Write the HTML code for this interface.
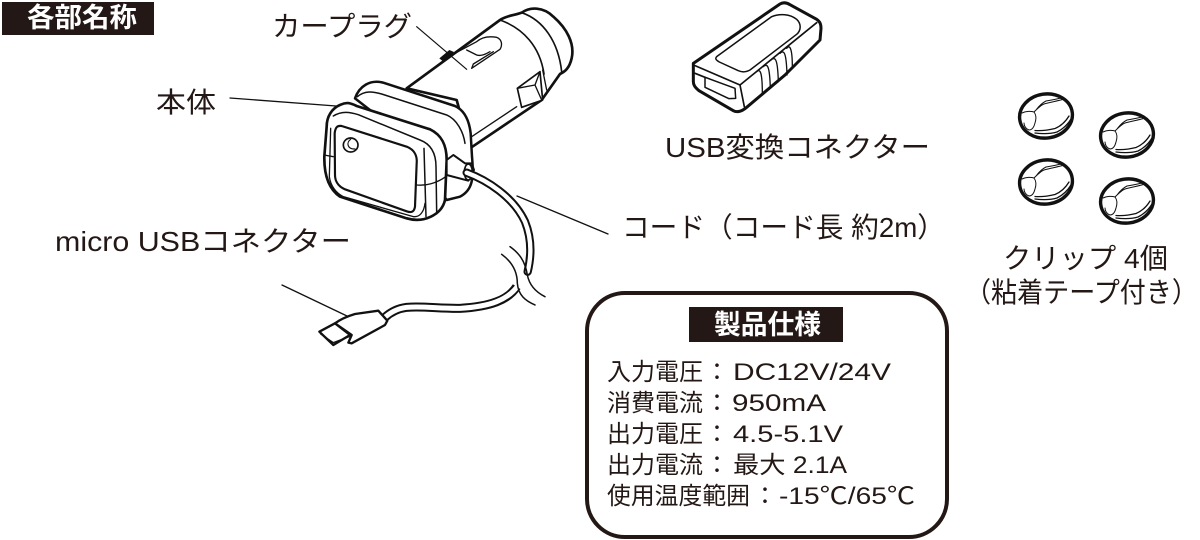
<!DOCTYPE html>
<html lang="ja"><head><meta charset="utf-8"><style>
html,body{margin:0;padding:0;background:#fff;width:1200px;height:540px;overflow:hidden}
svg{display:block}
text{font-family:"Liberation Sans","Noto Sans CJK JP",sans-serif;fill:#231815}
.l{font-size:28px}.s{font-size:24px}
.w{fill:#fff;font-weight:700}
.k{fill:none;stroke:#111;stroke-linecap:round;stroke-linejoin:round}
.f{fill:#fff;stroke:#111;stroke-linecap:round;stroke-linejoin:round}
</style></head><body>
<svg width="1200" height="540" viewBox="0 0 1200 540" xmlns="http://www.w3.org/2000/svg">
<defs>
<g id="clip">
<ellipse cx="0" cy="0" rx="26.5" ry="22" transform="rotate(-8)" fill="#fff" stroke="#111" stroke-width="3.4"/>
<path class="k" stroke-width="1" d="M-24 -3C-20 -5 -15 -5 -12 -4C-8 -8 -5 -11 -2 -12C5 -14 12 -15 18 -17M-10 -6C-7 -10 -4 -13 0 -15C6 -16 11 -17 15 -18M-12 -4C-9 0 -10 4 -11 7C-12 11 -14 14 -17 14C-20 13 -22 10 -22 7"/>
<path class="k" stroke-width="1.3" d="M-11 17C-3 18 4 18 11 16C17 13 22 8 25 3M-11 14.5C-3 15 3 14 9 12.5C15 10 20 5 23 0"/>
</g>
</defs>

<!-- header -->
<rect x="2" y="2" width="152" height="33" fill="#231815"/>
<text class="w" x="27" y="27" font-size="27" textLength="110" lengthAdjust="spacingAndGlyphs">各部名称</text>

<!-- labels -->
<text class="l" x="272" y="36" textLength="140" lengthAdjust="spacingAndGlyphs">カープラグ</text>
<text class="l" x="156" y="112" textLength="60" lengthAdjust="spacingAndGlyphs">本体</text>
<text class="l" x="55" y="251" textLength="296" lengthAdjust="spacingAndGlyphs">micro USBコネクター</text>
<text class="l" x="665" y="157" textLength="265" lengthAdjust="spacingAndGlyphs">USB変換コネクター</text>
<text class="l" x="622" y="237" textLength="323" lengthAdjust="spacingAndGlyphs">コード（コード長 約2m）</text>
<text class="l" x="1003" y="268" textLength="165" lengthAdjust="spacingAndGlyphs">クリップ 4個</text>
<text class="l" x="965" y="302" textLength="233" lengthAdjust="spacingAndGlyphs">（粘着テープ付き）</text>

<!-- leader lines -->
<path class="k" stroke-width="1.3" d="M230 98L336 106M282 285L347 316M517 196L608 234"/>

<!-- main unit, in 3x coords -->
<g transform="translate(300,0) scale(0.33333)">
  <!-- barrel + cap -->
  <path class="f" stroke-width="8" d="M320 265L600 60C620 46 645 46 665 38C690 20 730 20 760 50C800 85 825 130 815 175C808 205 795 215 780 222L725 300L510 445L470 300Z"/>
  <path class="k" stroke-width="5" d="M600 60C670 85 720 140 732 222M665 38C730 60 775 125 785 215"/>
  <path class="k" stroke-width="4" d="M515 410L650 320"/>
  <!-- slot -->
  <path class="k" stroke-width="4" d="M455 165L530 125C545 112 565 108 590 112C606 118 608 135 600 148L515 205L520 192L580 155M500 150L530 165C545 170 560 160 570 155"/>
  <path class="k" stroke-width="3.5" d="M350 80L500 208"/>
  <path d="M418 175L448 150L462 156L430 185Z" fill="#111"/>
  <!-- side tab -->
  <path class="f" stroke-width="5" d="M652 265L720 215L728 300L665 322Z"/>
  <path class="k" stroke-width="4" d="M652 265L705 255L720 215M705 255L725 300M728 210L740 270"/>
  <!-- back flange -->
  <path class="f" stroke-width="7.5" d="M165 295C178 258 210 238 250 248L465 318C495 332 508 365 512 400L516 470C522 535 518 570 480 590L440 600L300 400Z"/>
  <path class="k" stroke-width="4.5" d="M172 290C195 270 220 275 245 282L440 345C470 358 490 395 495 430"/>
  <!-- front flange -->
  <path class="f" stroke-width="8" d="M122 314C95 325 80 350 80 380L73 470C72 530 88 568 120 590L320 655C370 670 425 645 435 600L440 480C440 435 425 405 390 388L170 318C150 308 138 306 122 314Z"/>
  <path class="k" stroke-width="4.5" d="M100 348C125 332 150 336 175 344L360 420C392 432 408 460 408 500L410 635M372 445L378 650"/>
  <path class="k" stroke-width="4" d="M72 465L100 470M350 555C375 558 410 550 437 530"/>
  <!-- panel outer line -->
  <path class="k" stroke-width="4" d="M92 385L88 530C92 560 110 580 130 590L340 650C360 652 372 635 375 610"/>
  <!-- panel -->
  <path class="f" stroke-width="6.5" d="M125 378L320 440C345 450 352 470 350 490L345 620C342 638 332 638 320 634L135 568C112 558 105 540 105 525L104 400C106 382 112 376 125 378Z"/>
  <ellipse cx="152" cy="435" rx="22" ry="21" fill="#fff" stroke="#111" stroke-width="5"/>
  <path class="k" stroke-width="3.5" d="M152 418C138 428 142 448 165 447"/>
  <!-- strain relief -->
  <path class="f" stroke-width="6" d="M440 480L460 465L495 490L515 490L522 510L505 542L440 525Z"/>
  <ellipse cx="505" cy="516" rx="12" ry="24" fill="#fff" stroke="#111" stroke-width="5"/>
</g>

<!-- cord -->
<g transform="translate(300,160) scale(0.33333)" fill="none" stroke-linecap="round">
  <path d="M500 38C560 60 640 110 675 185C695 235 695 285 683 335" stroke="#111" stroke-width="25"/>
  <path d="M500 38C560 60 640 110 675 185C695 235 695 285 683 335" stroke="#fff" stroke-width="13"/>
  <path d="M650 380C625 420 570 440 480 445C420 446 370 438 320 442C290 446 270 458 255 472" stroke="#111" stroke-width="27" stroke-linecap="butt"/>
  <path d="M656 374C625 420 570 440 480 445C420 446 370 438 320 442C290 446 270 458 250 476" stroke="#fff" stroke-width="15" stroke-linecap="butt"/>
  <path class="k" stroke-width="4.5" d="M630 260C655 278 675 300 682 345C688 375 705 395 735 410M605 283C635 305 652 335 652 370C655 405 675 422 705 435"/>
  <!-- micro USB plug -->
  <path class="f" stroke-width="7" d="M58 515L105 490L150 525L100 555Z"/>
  <path class="k" stroke-width="4" d="M62 522L100 548L148 530"/>
  <path class="f" stroke-width="7" d="M105 490C125 475 145 468 165 462L235 452L262 482L255 495L155 550L145 548L155 525Z"/>
</g>

<!-- USB adapter -->
<g transform="translate(685,0) scale(0.33333)">
  <path class="f" stroke-width="9" d="M25 190L285 12C295 6 305 8 315 14L395 58C405 65 408 72 408 85L405 120L300 225L185 322C170 335 155 338 145 332L42 272C30 262 25 255 25 245Z"/>
  <path class="k" stroke-width="5" d="M30 197L165 255L395 68M165 255L178 320M30 220L150 268"/>
  <path class="k" stroke-width="4.5" d="M95 170L260 50C285 40 315 42 335 58C350 72 348 92 335 103L195 210C180 218 170 216 160 212L103 186C92 180 90 175 95 170Z"/>
  <path class="f" stroke-width="4.5" d="M60 232L150 265L152 295L132 296L60 262Z"/>
  <path class="k" stroke-width="4" d="M215 215C225 205 232 215 232 280M235 200C248 188 254 200 256 265M258 180C272 168 278 180 280 245M285 160C298 148 304 160 306 225M305 145C314 132 322 145 322 200"/>
</g>

<!-- clips -->
<use href="#clip" x="1046" y="116"/>
<use href="#clip" x="1127" y="135"/>
<use href="#clip" x="1046" y="182"/>
<use href="#clip" x="1127" y="201"/>

<!-- spec box -->
<rect x="587" y="293" width="360" height="244" rx="38" ry="38" fill="#fff" stroke="#231815" stroke-width="4"/>
<rect x="689" y="307" width="154" height="35" fill="#231815"/>
<text class="w" x="714" y="334" font-size="27" textLength="107" lengthAdjust="spacingAndGlyphs">製品仕様</text>

<text class="s" x="607" y="380" textLength="96" lengthAdjust="spacingAndGlyphs">入力電圧</text>
<text class="s" x="705" y="380">：</text>
<text class="s" x="733" y="380" textLength="158" lengthAdjust="spacingAndGlyphs">DC12V/24V</text>

<text class="s" x="607" y="411" textLength="96" lengthAdjust="spacingAndGlyphs">消費電流</text>
<text class="s" x="705" y="411">：</text>
<text class="s" x="732" y="411" textLength="94" lengthAdjust="spacingAndGlyphs">950mA</text>

<text class="s" x="607" y="442" textLength="96" lengthAdjust="spacingAndGlyphs">出力電圧</text>
<text class="s" x="705" y="442">：</text>
<text class="s" x="733" y="442" textLength="110" lengthAdjust="spacingAndGlyphs">4.5-5.1V</text>

<text class="s" x="607" y="473" textLength="96" lengthAdjust="spacingAndGlyphs">出力電流</text>
<text class="s" x="705" y="473">：</text>
<text class="s" x="733" y="473" textLength="114" lengthAdjust="spacingAndGlyphs">最大 2.1A</text>

<text class="s" x="607" y="504" textLength="143" lengthAdjust="spacingAndGlyphs">使用温度範囲</text>
<text class="s" x="753" y="504">：</text>
<text class="s" x="779" y="504" textLength="136" lengthAdjust="spacingAndGlyphs">-15℃/65℃</text>
</svg>
</body></html>
